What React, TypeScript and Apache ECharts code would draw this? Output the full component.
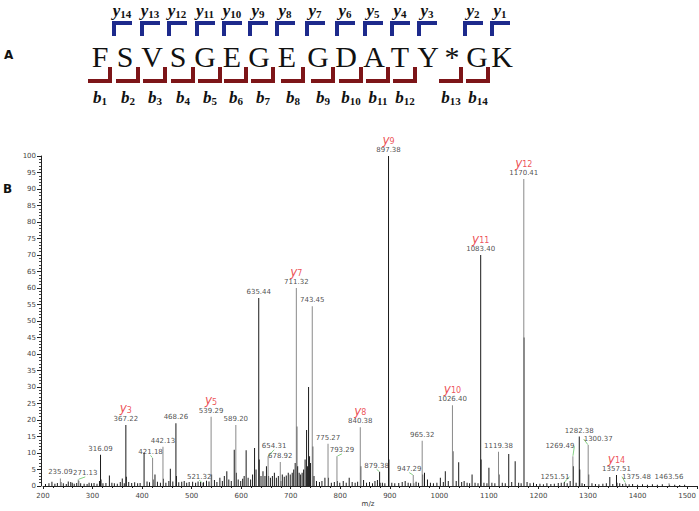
import React, { useEffect, useRef } from "react";
import * as echarts from "echarts";

// ---- Peptide ----
const residues = ["F", "S", "V", "S", "G", "E", "G", "E", "G", "D", "A", "T", "Y", "*", "G", "K"];
const yIonNames = ["14", "13", "12", "11", "10", "9", "8", "7", "6", "5", "4", "3", "2", "1"];
const bIonNames = ["1", "2", "3", "4", "5", "6", "7", "8", "9", "10", "11", "12", "13", "14"];

// ---- Spectrum: labelled peaks ----
const labelMz = [235.09, 271.13, 316.09, 367.22, 421.18, 442.13, 468.26, 521.32, 539.29, 589.2, 635.44, 654.31, 678.92, 711.32, 743.45, 775.27, 793.29, 840.38, 879.38, 897.38, 947.29, 965.32, 1026.4, 1083.4, 1119.38, 1170.41, 1251.51, 1269.49, 1282.38, 1300.37, 1357.51, 1375.48, 1463.56];
const labelIntensity = [2.3, 2.0, 9.5, 18.5, 8.5, 11.9, 19.0, 1.0, 21.0, 18.5, 57.0, 9.0, 7.3, 60.0, 54.5, 12.8, 9.0, 17.8, 4.3, 100.0, 3.3, 13.7, 24.5, 70.0, 10.4, 93.0, 1.0, 9.0, 15.0, 12.4, 3.3, 1.0, 0.8];
const labelIon = ["", "", "", "y3", "", "", "", "", "y5", "", "", "", "", "y7", "", "", "", "y8", "", "y9", "", "", "y10", "y11", "", "y12", "", "", "", "", "y14", "", ""];
const labelDark = [false, false, true, true, false, false, true, false, false, false, true, false, false, false, false, false, false, false, true, true, false, false, false, true, false, false, false, false, true, false, true, false, false];

// ---- Spectrum: unlabelled peaks ----
const minorMz = [205, 212, 218, 224, 229, 236.1, 241, 247, 251, 256, 259, 263, 268, 272.1, 276, 283, 289, 293, 298,
  303, 309, 314, 317.1, 321, 327, 334, 339, 344, 350, 356, 360, 364, 368.2, 373, 379, 385, 391, 396,
  404, 410, 415, 422.2, 426, 431, 437, 443.1, 448, 454, 457, 462, 469.3, 474, 480, 485, 490, 495,
  502, 508, 513, 518, 524, 530, 535, 540.3, 546, 551, 557, 562, 566, 571, 575, 580, 586, 590.2, 594, 599,
  603, 606, 610, 614, 619, 623, 627, 630, 636.4, 640, 644, 648, 651, 655.3, 659, 663, 667, 671, 675, 679.9, 683, 687, 691, 695, 699,
  703, 706, 709, 712.3, 714, 717, 720, 723, 726, 729, 732, 734, 736, 738, 740, 744.5, 747, 752, 758, 763, 769, 776.3, 782, 788, 794.3, 799,
  806, 812, 818, 824, 830, 835, 841.4, 847, 853, 859, 865, 870, 875, 880.4, 885, 890, 898.2,
  904, 910, 918, 925, 931, 937, 942, 948.3, 953, 958, 966.3, 970, 976, 982, 988, 995,
  1002, 1008, 1012, 1018, 1027.4, 1034, 1039, 1045, 1050, 1056, 1061, 1066, 1072, 1078, 1084.2, 1090, 1096, 1100,
  1106, 1112, 1120.4, 1127, 1133, 1140, 1146, 1153, 1160, 1165, 1170.8, 1177, 1183, 1190, 1196,
  1203, 1210, 1217, 1225, 1232, 1240, 1246, 1252.5, 1258, 1264, 1270.5, 1276, 1283.4, 1288, 1293,
  1301.4, 1308, 1315, 1322, 1330, 1337, 1344, 1350, 1358.5, 1364, 1370, 1376.5, 1383, 1390, 1400, 1410, 1420, 1430, 1440, 1450, 1464.6, 1475, 1485, 1495];
const minorIntensity = [0.6, 0.8, 1.3, 0.7, 0.9, 1.2, 0.8, 0.6, 1.4, 1.2, 1.0, 0.7, 0.9, 1.6, 0.8, 0.7, 0.6, 1.0, 0.8,
  0.9, 0.7, 1.5, 2.0, 0.8, 0.9, 3.2, 1.0, 0.8, 0.7, 1.2, 2.3, 0.8, 2.8, 1.2, 0.9, 1.1, 0.8, 0.9,
  10.1, 1.4, 1.1, 2.0, 3.5, 1.3, 1.0, 2.2, 1.0, 1.5, 5.2, 1.4, 3.0, 1.1, 1.3, 1.5, 1.0, 1.2,
  1.3, 1.0, 1.4, 1.2, 1.1, 1.6, 1.4, 3.5, 1.8, 1.2, 2.5, 1.5, 3.0, 4.5, 2.0, 1.5, 11.0, 4.0, 2.0, 1.5,
  2.2, 3.0, 10.8, 2.5, 2.0, 3.5, 11.5, 5.0, 8.0, 3.0, 4.5, 3.0, 6.0, 3.0, 2.5, 3.0, 4.0, 2.5, 3.0, 1.5, 3.5, 2.8, 3.2, 4.0, 3.5,
  4.0, 5.0, 7.0, 18.0, 6.0, 4.0, 3.5, 4.0, 5.0, 8.0, 17.0, 6.0, 30.0, 9.0, 7.0, 12.0, 3.0, 1.5, 1.2, 1.5, 2.5, 2.5, 1.0, 1.2, 1.5, 1.0,
  1.5, 1.0, 2.5, 1.2, 1.0, 1.3, 6.0, 1.8, 1.0, 1.2, 0.8, 1.5, 1.8, 1.0, 1.0, 0.8, 8.0,
  1.0, 0.8, 0.9, 1.2, 1.5, 1.0, 0.8, 0.8, 1.3, 1.0, 3.5, 4.0, 2.0, 1.0, 0.8, 1.0,
  2.5, 1.2, 4.5, 1.5, 10.5, 1.5, 7.2, 1.2, 1.5, 1.0, 0.8, 3.5, 1.0, 0.8, 8.0, 1.0, 0.8, 5.5,
  1.0, 0.8, 3.5, 1.0, 0.8, 9.7, 1.2, 7.5, 1.0, 0.8, 45.0, 1.2, 0.8, 1.0, 0.6,
  0.7, 0.5, 0.8, 0.6, 0.7, 0.9, 1.0, 1.2, 0.8, 1.5, 6.0, 1.0, 5.0, 0.8, 0.6,
  3.5, 0.8, 0.6, 0.5, 0.7, 0.8, 2.7, 0.6, 1.0, 0.8, 0.6, 0.5, 0.5, 0.6, 0.4, 0.5, 0.4, 0.5, 0.4, 0.5, 0.4, 0.4, 0.3, 0.4];

// ---- Axis ticks ----
const xTicks = [200, 300, 400, 500, 600, 700, 800, 900, 1000, 1100, 1200, 1300, 1400, 1500];
const yTicks = [0, 5, 10, 15, 20, 25, 30, 35, 40, 45, 50, 55, 60, 65, 70, 75, 80, 85, 90, 95, 100];

// ---- layout (pixels) ----
const letterX = [100, 125, 152, 178, 205, 232, 259, 287, 318, 346, 374, 400, 428, 452, 477, 502];
const gapX = [112, 140, 167, 195, 222, 248, 275, 305, 335, 363, 390, 417, 463, 490];
// label nudges (px) for peak labels that sit off their peak, with a leader line
const labelNudgeX = [0, 7, 0, 0, -2, 0, 0, -3, 0, 0, 0, 6, 0, 0, 0, 0, 5, 0, -3, 0, -4, 0, 0, 0, 0, 0, -9, -13, 0, 10, 0, 11, 0];
const labelNudgeY = [0, 0, 0, 0, 0, 0, 0, 0, 0, 0, 0, -4, 0, 0, 0, 0, 0, 0, 0, 0, 0, 0, 0, 0, 0, 0, 0, -4, 0, 0, 0, 0, 0];

const BLUE = "#1d2a8c";
const RED = "#7d1518";

function buildGraphics(): any[] {
  const els: any[] = [];
  els.push({ type: "text", left: 4, top: 49, style: { text: "A", font: "bold 12px 'DejaVu Sans'", fill: "#111" } });
  els.push({ type: "text", left: 3, top: 183, style: { text: "B", font: "bold 12px 'DejaVu Sans'", fill: "#111" } });
  residues.forEach((r, i) => {
    els.push({
      type: "text",
      x: letterX[i],
      y: 56,
      style: { text: r, fill: "#111", font: "30px 'Liberation Serif'", align: "center", verticalAlign: "middle" },
    });
  });
  const ionRich = {
    i: { font: "bold italic 17px 'Liberation Serif'", fill: "#111", verticalAlign: "bottom", lineHeight: 18 },
    s: { font: "bold 11px 'Liberation Serif'", fill: "#111", verticalAlign: "bottom", lineHeight: 12 },
  };
  gapX.forEach((g, i) => {
    els.push({ type: "rect", shape: { x: g, y: 21, width: 4, height: 15 }, style: { fill: BLUE } });
    els.push({ type: "rect", shape: { x: g, y: 21, width: 20, height: 4 }, style: { fill: BLUE } });
    els.push({ type: "rect", shape: { x: g - 4, y: 67, width: 4, height: 16 }, style: { fill: RED } });
    els.push({ type: "rect", shape: { x: g - 24, y: 79, width: 24, height: 4 }, style: { fill: RED } });
    els.push({
      type: "text",
      x: g + 10,
      y: 10,
      style: { text: "{i|y}{s|" + yIonNames[i] + "}", align: "center", verticalAlign: "middle", rich: ionRich },
    });
    els.push({
      type: "text",
      x: g - 12,
      y: 97,
      style: { text: "{i|b}{s|" + bIonNames[i] + "}", align: "center", verticalAlign: "middle", rich: ionRich },
    });
  });
  els.push({ type: "text", x: 368, y: 504, style: { text: "m/z", font: "7px 'DejaVu Sans'", fill: "#333", align: "center", verticalAlign: "middle" } });
  return els;
}

export default function App() {
  const ref = useRef<HTMLDivElement>(null);
  useEffect(() => {
    document.body.style.margin = "0";
    if (!ref.current) return;
    const chart = echarts.init(ref.current, null, { renderer: "svg" });
    const grayData: any[] = [];
    const darkData: any[] = [];
    labelMz.forEach((m, i) => (labelDark[i] ? darkData : grayData).push([m, labelIntensity[i]]));
    minorMz.forEach((m, i) => darkData.push([m, minorIntensity[i]]));
    const labelData = labelMz.map((m, i) => ({
      value: [m, labelIntensity[i], m.toFixed(2), labelIon[i]],
      labelLine: { show: labelNudgeX[i] !== 0 || labelNudgeY[i] !== 0 },
    }));

    chart.setOption({
      animation: false,
      grid: { left: 43, right: 2, top: 156, bottom: 25 },
      xAxis: {
        type: "value",
        min: 200,
        max: 1520,
        interval: 100,
        axisLine: { show: true, lineStyle: { color: "#222", width: 1 } },
        axisTick: { show: true, length: 3, lineStyle: { color: "#222" } },
        minorTick: { show: true, splitNumber: 5, length: 2, lineStyle: { color: "#222" } },
        splitLine: { show: false },
        axisLabel: {
          showMaxLabel: false,
          fontSize: 7,
          color: "#444",
          fontFamily: "DejaVu Sans",
          margin: 6,
          formatter: (v: number) => (xTicks.includes(v) ? String(v) : ""),
        },
      },
      yAxis: {
        type: "value",
        min: 0,
        max: 100,
        interval: 5,
        offset: 2,
        axisLine: { show: true, lineStyle: { color: "#222", width: 1 } },
        axisTick: { show: true, length: 4, lineStyle: { color: "#222" } },
        minorTick: { show: true, splitNumber: 5, length: 2, lineStyle: { color: "#444" } },
        splitLine: { show: false },
        axisLabel: {
          fontSize: 7,
          color: "#444",
          fontFamily: "DejaVu Sans",
          margin: 5,
          formatter: (v: number) => (yTicks.includes(v) ? String(v) : ""),
        },
      },
      series: [
        { type: "bar", data: darkData, barWidth: 1, barGap: "-100%", itemStyle: { color: "#1a1a1a" }, silent: true },
        { type: "bar", data: grayData, barWidth: 1, barGap: "-100%", itemStyle: { color: "#8a8a8a" }, silent: true },
        {
          type: "scatter",
          data: labelData,
          symbolSize: 1,
          itemStyle: { color: "rgba(0,0,0,0)" },
          silent: true,
          labelLayout: (p: any) => ({ dx: labelNudgeX[p.dataIndex], dy: labelNudgeY[p.dataIndex] }),
          labelLine: { show: false, lineStyle: { color: "#86cf86", width: 1 } },
          label: {
            show: true,
            position: "top",
            distance: 1,
            formatter: (p: any) => {
              const v = p.value;
              const ion = v[3] as string;
              const mz = "{m|" + v[2] + "}";
              if (!ion) return mz;
              return "{i|y}{s|" + ion.slice(1) + "}\n" + mz;
            },
            rich: {
              m: { fontSize: 7, fontFamily: "DejaVu Sans", color: "#222", lineHeight: 9 },
              i: { fontSize: 12, fontFamily: "DejaVu Sans", fontStyle: "italic", color: "#e8262c", lineHeight: 15, verticalAlign: "bottom" },
              s: { fontSize: 8, fontFamily: "DejaVu Sans", color: "#e8262c", lineHeight: 11, verticalAlign: "bottom" },
            },
          },
        },
      ],
      graphic: buildGraphics(),
    });
    return () => chart.dispose();
  }, []);
  return <div ref={ref} style={{ width: 699, height: 511, display: "block" }} />;
}
